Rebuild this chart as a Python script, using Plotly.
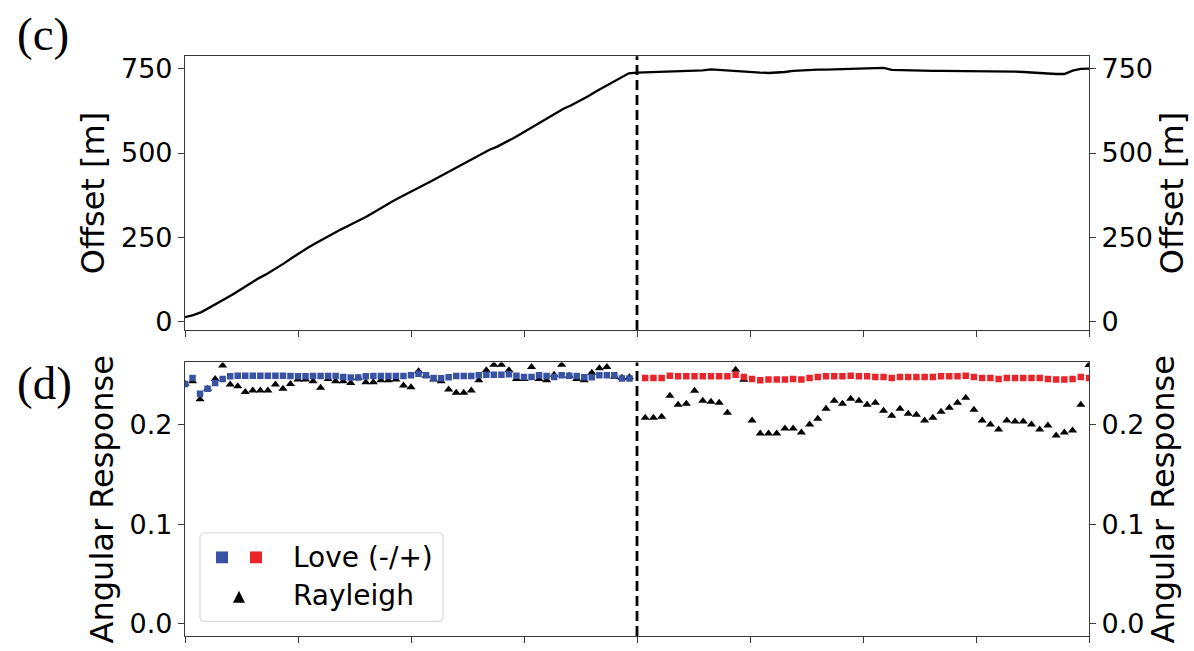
import plotly.graph_objects as go

# ---------------- data ----------------
offset_x = list(range(0, 111))
offset_m = [12, 18, 27, 40, 55, 68, 82, 98, 114, 128, 141, 155, 171, 188, 204, 219, 233, 247, 260, 273,
            285, 297, 310, 324, 339, 353, 366, 378, 391, 404, 417, 430, 443, 456, 468, 481, 496, 509, 519, 531,
            545, 559, 573, 587, 602, 617, 631, 642, 654, 668, 683, 697, 711, 725, 737, 739, 740, 740, 741, 741,
            742, 743, 744, 746, 749, 747, 745, 743, 741, 740, 739, 738, 739, 741, 744, 746, 747, 748, 748, 749,
            750, 751, 752, 753, 754, 753, 747, 746, 745, 745, 745, 744, 744, 744, 744, 743, 743, 743, 743, 743,
            742, 742, 741, 739, 737, 736, 735, 735, 745, 750, 751]

split_x = 55
left_x = [round(i * 55 / 60, 3) for i in range(60)]   # 60 samples before the split
right_x = list(range(56, 111))                         # 55 samples after the split

love_left = [0.2409, 0.2469, 0.2310, 0.2360, 0.2419, 0.2459, 0.2485, 0.2492, 0.2492, 0.2492,
             0.2492, 0.2492, 0.2492, 0.2492, 0.2489, 0.2485, 0.2485, 0.2489, 0.2489, 0.2489,
             0.2489, 0.2479, 0.2472, 0.2472, 0.2485, 0.2489, 0.2489, 0.2489, 0.2489, 0.2489,
             0.2495, 0.2512, 0.2495, 0.2469, 0.2465, 0.2475, 0.2489, 0.2489, 0.2489, 0.2495,
             0.2502, 0.2502, 0.2502, 0.2505, 0.2492, 0.2479, 0.2479, 0.2495, 0.2489, 0.2479,
             0.2495, 0.2492, 0.2489, 0.2475, 0.2475, 0.2495, 0.2495, 0.2495, 0.2462, 0.2462]
rayleigh_left = [0.2410, 0.2436, 0.2254, 0.2360, 0.2459, 0.2594, 0.2403, 0.2386, 0.2327, 0.2343,
                 0.2343, 0.2343, 0.2403, 0.2360, 0.2409, 0.2452, 0.2452, 0.2436, 0.2370, 0.2459,
                 0.2436, 0.2436, 0.2419, 0.2470, 0.2426, 0.2426, 0.2445, 0.2445, 0.2452, 0.2393,
                 0.2376, 0.2535, 0.2490, 0.2452, 0.2436, 0.2353, 0.2320, 0.2320, 0.2343, 0.2445,
                 0.2545, 0.2601, 0.2601, 0.2545, 0.2459, 0.2459, 0.2578, 0.2459, 0.2445, 0.2502,
                 0.2601, 0.2490, 0.2459, 0.2445, 0.2522, 0.2565, 0.2578, 0.2480, 0.2470, 0.2475]
love_right = [0.2469, 0.2469, 0.2469, 0.2492, 0.2485, 0.2485, 0.2485, 0.2485, 0.2485, 0.2485,
              0.2485, 0.2502, 0.2479, 0.2459, 0.2446, 0.2452, 0.2452, 0.2452, 0.2459, 0.2452,
              0.2469, 0.2479, 0.2485, 0.2485, 0.2485, 0.2492, 0.2485, 0.2485, 0.2479, 0.2479,
              0.2469, 0.2479, 0.2479, 0.2479, 0.2479, 0.2479, 0.2485, 0.2485, 0.2485, 0.2492,
              0.2479, 0.2469, 0.2469, 0.2459, 0.2469, 0.2469, 0.2469, 0.2469, 0.2469, 0.2459,
              0.2452, 0.2452, 0.2459, 0.2479, 0.2469]
rayleigh_right = [0.207, 0.207, 0.208, 0.229, 0.220, 0.221, 0.234, 0.224, 0.223, 0.222,
                  0.212, 0.255, 0.245, 0.204, 0.191, 0.191, 0.191, 0.196, 0.196, 0.192,
                  0.200, 0.206, 0.216, 0.224, 0.221, 0.226, 0.224, 0.220, 0.222, 0.214,
                  0.209, 0.216, 0.211, 0.210, 0.204, 0.207, 0.213, 0.217, 0.222, 0.227,
                  0.215, 0.204, 0.200, 0.195, 0.204, 0.203, 0.203, 0.200, 0.195, 0.199,
                  0.189, 0.192, 0.194, 0.220, 0.260]

offset_ticks = [0, 250, 500, 750]
resp_ticks = [0.0, 0.1, 0.2]
resp_tick_text = ["0.0", "0.1", "0.2"]
x_ticks = [0, 13.75, 27.5, 41.25, 55, 68.75, 82.5, 96.25, 110]

BLUE = "#3953a4"
RED = "#e8252b"
AX = "#3a3a3a"
FONT = "DejaVu Sans"
W, H = 1194, 651

# plot area in pixels
X0, X1 = 185, 1089
TOP = (54, 332)
BOT = (365, 643)


def px(x):
    return x / W


def py(y):
    return 1 - y / H


fig = go.Figure()

fig.add_trace(go.Scatter(x=offset_x, y=offset_m, mode="lines",
                         line=dict(color="black", width=2.3), xaxis="x", yaxis="y",
                         showlegend=False))
fig.add_trace(go.Scatter(x=offset_x, y=offset_m, mode="lines", opacity=0,
                         line=dict(color="black", width=0), xaxis="x", yaxis="y2",
                         showlegend=False, hoverinfo="skip"))

fig.add_trace(go.Scatter(x=left_x, y=rayleigh_left, mode="markers", xaxis="x2", yaxis="y3",
                         marker=dict(symbol="triangle-up", size=8, color="black"),
                         name="Rayleigh", showlegend=False))
fig.add_trace(go.Scatter(x=right_x, y=rayleigh_right, mode="markers", xaxis="x2", yaxis="y3",
                         marker=dict(symbol="triangle-up", size=8, color="black"),
                         showlegend=False))
fig.add_trace(go.Scatter(x=left_x, y=love_left, mode="markers", xaxis="x2", yaxis="y3",
                         marker=dict(symbol="square", size=6.5, color=BLUE),
                         name="Love (-)", showlegend=False))
fig.add_trace(go.Scatter(x=right_x, y=love_right, mode="markers", xaxis="x2", yaxis="y3",
                         marker=dict(symbol="square", size=6.5, color=RED),
                         name="Love (+)", showlegend=False))
fig.add_trace(go.Scatter(x=right_x, y=love_right, mode="markers", xaxis="x2", yaxis="y4",
                         opacity=0, showlegend=False, hoverinfo="skip"))

xdom = [px(X0), px(X1)]
ydom_top = [py(TOP[1]), py(TOP[0])]
ydom_bot = [py(BOT[1]), py(BOT[0])]

common_axis = dict(showline=True, linecolor=AX, linewidth=1.2, ticks="outside",
                   ticklen=6, tickwidth=1.2, tickcolor=AX, showgrid=False, zeroline=False,
                   tickfont=dict(family=FONT, size=27, color="black"))
title_font = dict(family=FONT, size=32, color="black")

xr = [0, 110]
fig.update_layout(
    width=W, height=H, margin=dict(l=0, r=0, t=0, b=0),
    paper_bgcolor="white", plot_bgcolor="white",
    xaxis=dict(domain=xdom, range=xr, anchor="y", tickvals=x_ticks, showticklabels=False,
               mirror=True, **common_axis),
    xaxis2=dict(domain=xdom, range=xr, anchor="y3", tickvals=x_ticks, showticklabels=False,
                mirror=True, **common_axis),
    yaxis=dict(domain=ydom_top, range=[-26, 788], anchor="x", tickvals=offset_ticks,
               title=dict(text="Offset [m]", font=title_font, standoff=6),
               **common_axis),
    yaxis2=dict(domain=ydom_top, range=[-26, 788], anchor="x", overlaying="y", side="right",
                tickvals=offset_ticks,
                title=dict(text="Offset [m]", font=title_font, standoff=6),
                **common_axis),
    yaxis3=dict(domain=ydom_bot, range=[-0.0125, 0.2625], anchor="x2", tickvals=resp_ticks,
                ticktext=resp_tick_text,
                title=dict(text="Angular Response", font=title_font, standoff=6),
                **common_axis),
    yaxis4=dict(domain=ydom_bot, range=[-0.0125, 0.2625], anchor="x2", overlaying="y3", side="right",
                tickvals=resp_ticks, ticktext=resp_tick_text,
                title=dict(text="Angular Response", font=title_font, standoff=6),
                **common_axis),
)

shapes = []
# vertical dashed split lines
for xa, yd in (("x", "y domain"), ("x2", "y3 domain")):
    shapes.append(dict(type="line", xref=xa, yref=yd, x0=split_x, x1=split_x, y0=0, y1=1,
                       line=dict(color="black", width=2.8, dash="10px,5px")))


# legend box (rounded rectangle)
def rrect(x0, y0, x1, y1, r):
    a0, a1 = px(x0), px(x1)
    b0, b1 = py(y0), py(y1)  # b0 top, b1 bottom
    rx, ry = r / W, r / H
    return (f"M{a0+rx},{b0} L{a1-rx},{b0} Q{a1},{b0} {a1},{b0-ry} "
            f"L{a1},{b1+ry} Q{a1},{b1} {a1-rx},{b1} L{a0+rx},{b1} "
            f"Q{a0},{b1} {a0},{b1+ry} L{a0},{b0-ry} Q{a0},{b0} {a0+rx},{b0} Z")


shapes.append(dict(type="path", xref="paper", yref="paper", path=rrect(200, 538, 443, 628, 5),
                   line=dict(color="#d9d9d9", width=1.2), fillcolor="rgba(255,255,255,0.85)"))


def square(cx, cy, s, color):
    return dict(type="rect", xref="paper", yref="paper", x0=px(cx - s / 2), x1=px(cx + s / 2),
                y0=py(cy + s / 2), y1=py(cy - s / 2), fillcolor=color, line=dict(width=0))


shapes.append(square(222, 563, 12, BLUE))
shapes.append(square(256, 563, 12, RED))
tx, ty, ts = 239, 604, 12
shapes.append(dict(type="path", xref="paper", yref="paper",
                   path=f"M{px(tx - ts/2)},{py(ty + ts/2 - 1)} L{px(tx + ts/2)},{py(ty + ts/2 - 1)} "
                        f"L{px(tx)},{py(ty - ts/2 - 1)} Z",
                   fillcolor="black", line=dict(width=0)))
fig.update_layout(shapes=shapes)

ann = [
    dict(text="Love (-/+)", x=px(291), y=py(563), xref="paper", yref="paper", xanchor="left",
         yanchor="middle", showarrow=False, font=dict(family=FONT, size=28, color="black")),
    dict(text="Rayleigh", x=px(291), y=py(602), xref="paper", yref="paper", xanchor="left",
         yanchor="middle", showarrow=False, font=dict(family=FONT, size=28, color="black")),
    dict(text="(c)", x=px(15), y=py(31), xref="paper", yref="paper", xanchor="left",
         yanchor="middle", showarrow=False, font=dict(family="Liberation Serif", size=47, color="black")),
    dict(text="(d)", x=px(15), y=py(386), xref="paper", yref="paper", xanchor="left",
         yanchor="middle", showarrow=False, font=dict(family="Liberation Serif", size=47, color="black")),
]
fig.update_layout(annotations=ann)

fig.write_html("out.html")
